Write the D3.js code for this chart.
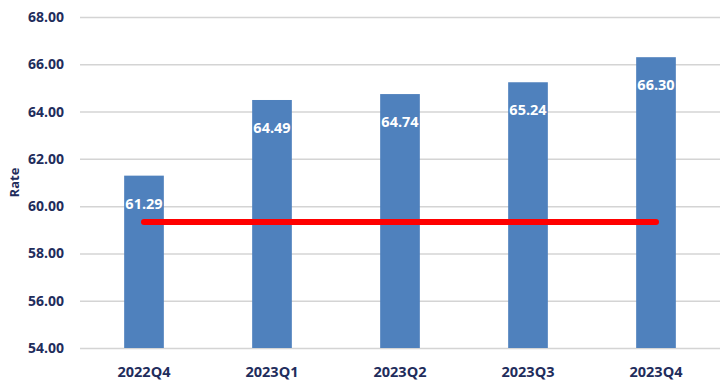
<!DOCTYPE html>
<html><head><meta charset="utf-8">
<script src="https://cdn.jsdelivr.net/npm/d3@7"></script>
<style>body{margin:0;background:#fff}svg{display:block}</style>
</head><body>
<svg id="chart" width="728" height="389"></svg>
<script>
const categories = ["2022Q4","2023Q1","2023Q2","2023Q3","2023Q4"];
const rateValues = [61.29, 64.49, 64.74, 65.24, 66.30];
const targetValues = [59.33, 59.33, 59.33, 59.33, 59.33];
const yTicks = [54,56,58,60,62,64,66,68];
const yLabel = "Rate";

const svg = d3.select("#chart");
const m = {left:80, right:8, top:17, bottom:41};
const W = 728, H = 389;
const x = d3.scaleBand().domain(categories).range([m.left, W-m.right]).paddingInner(0.69).paddingOuter(0.345);
const y = d3.scaleLinear().domain([54,68]).range([H-m.bottom, m.top]);
const navy = "#1f2d5c";
const font = "'Open Sans', 'Noto Sans', sans-serif";

// gridlines
const yAxis = d3.axisLeft(y).tickValues(yTicks).tickSize(-(W-m.left-m.right)).tickFormat(d3.format(".2f")).tickPadding(16);
const gy = svg.append("g").attr("transform",`translate(${m.left},0)`).call(yAxis);
gy.select(".domain").remove();
gy.selectAll(".tick line").attr("stroke","#d4d4d4").attr("stroke-width",1.5);
gy.selectAll(".tick text").attr("fill",navy).attr("font-family",font).attr("font-weight","bold").attr("font-size",14);

// bars
svg.append("g").selectAll("rect").data(categories).join("rect")
  .attr("x",d=>x(d)).attr("width",x.bandwidth())
  .attr("y",(d,i)=>y(rateValues[i])).attr("height",(d,i)=>y(54)-y(rateValues[i]))
  .attr("fill","#4f81bd");

// x axis
const xAxis = d3.axisBottom(x).tickSize(0).tickPadding(19);
const gx = svg.append("g").attr("transform",`translate(0,${H-m.bottom})`).call(xAxis);
gx.select(".domain").remove();
gx.selectAll(".tick text").attr("fill",navy).attr("font-family",font).attr("font-weight","bold").attr("font-size",14.5);

// target line
const line = d3.line().x((d,i)=>x(categories[i])+x.bandwidth()/2).y(d=>y(d));
svg.append("path").datum(targetValues).attr("d",line)
  .attr("fill","none").attr("stroke","#ff0000").attr("stroke-width",6).attr("stroke-linecap","round");

// data labels
svg.append("g").selectAll("text").data(categories).join("text")
  .attr("x",d=>x(d)+x.bandwidth()/2).attr("y",(d,i)=>y(rateValues[i])+33)
  .attr("text-anchor","middle").attr("fill","#fff").attr("font-family",font)
  .attr("font-weight","bold").attr("font-size",14.5)
  .text((d,i)=>rateValues[i].toFixed(2));

// y label
svg.append("text").attr("transform",`translate(19,${(m.top+H-m.bottom)/2}) rotate(-90)`)
  .attr("text-anchor","middle").attr("fill",navy).attr("font-family",font)
  .attr("font-weight","bold").attr("font-size",13).text(yLabel);
</script>
</body></html>
